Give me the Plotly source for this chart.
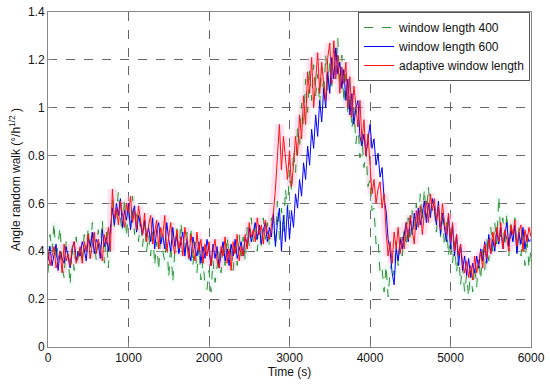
import plotly.graph_objects as go

# sampling grid (s)
time_s = list(range(0, 6001, 25))

# window length 400 (green dashed)
win400 = [
    0.31,0.47,0.40,0.52,0.36,0.44,0.50,0.34,0.29,0.44,0.37,0.26,0.42,0.32,0.46,0.35,
    0.43,0.35,0.47,0.40,0.50,0.37,0.52,0.44,0.36,0.49,0.41,0.53,0.35,0.48,0.33,0.50,
    0.62,0.50,0.56,0.65,0.53,0.48,0.62,0.46,0.58,0.50,0.63,0.47,0.56,0.44,0.54,0.42,
    0.52,0.40,0.47,0.38,0.50,0.34,0.44,0.32,0.48,0.40,0.36,0.45,0.29,0.43,0.27,0.40,
    0.50,0.40,0.52,0.44,0.38,0.48,0.35,0.50,0.34,0.44,0.31,0.42,0.28,0.36,0.26,0.24,
    0.32,0.23,0.36,0.27,0.33,0.40,0.31,0.44,0.34,0.46,0.38,0.43,0.32,0.45,0.34,0.47,
    0.38,0.46,0.36,0.50,0.42,0.54,0.44,0.52,0.40,0.50,0.42,0.54,0.45,0.52,0.42,0.54,
    0.52,0.42,0.61,0.45,0.58,0.48,0.66,0.57,0.74,0.65,0.82,0.73,0.92,0.83,1.02,0.92,
    1.12,0.98,1.16,1.03,1.18,1.05,1.14,1.01,1.17,1.05,1.22,1.07,1.20,1.09,1.27,1.15,
    1.29,1.10,1.22,1.02,1.14,0.97,1.06,0.91,1.00,0.85,0.94,0.79,0.88,0.75,0.82,0.67,
    0.70,0.57,0.58,0.43,0.45,0.31,0.33,0.23,0.34,0.21,0.32,0.36,0.30,0.44,0.34,0.46,
    0.38,0.50,0.42,0.54,0.44,0.57,0.48,0.60,0.50,0.64,0.53,0.66,0.54,0.67,0.56,0.62,
    0.57,0.48,0.58,0.46,0.54,0.42,0.52,0.38,0.48,0.35,0.44,0.31,0.40,0.26,0.34,0.23,
    0.30,0.21,0.32,0.23,0.34,0.25,0.37,0.28,0.42,0.32,0.46,0.36,0.50,0.40,0.52,0.43,
    0.63,0.46,0.54,0.42,0.56,0.38,0.52,0.44,0.54,0.40,0.50,0.38,0.48,0.34,0.46,0.33,
    0.41,
]

# window length 600 (blue)
win600 = [
    0.36,0.42,0.34,0.39,0.43,0.32,0.40,0.37,0.35,0.42,0.38,0.33,0.41,0.44,0.36,0.40,
    0.38,0.44,0.41,0.36,0.46,0.42,0.48,0.39,0.45,0.43,0.37,0.49,0.42,0.46,0.40,0.50,
    0.58,0.51,0.60,0.55,0.62,0.50,0.57,0.53,0.60,0.49,0.56,0.59,0.48,0.55,0.51,0.47,
    0.53,0.46,0.50,0.44,0.54,0.41,0.49,0.52,0.43,0.47,0.41,0.52,0.45,0.40,0.50,0.42,
    0.47,0.39,0.44,0.48,0.38,0.45,0.40,0.36,0.46,0.41,0.38,0.44,0.35,0.42,0.37,0.45,
    0.40,0.34,0.43,0.37,0.42,0.33,0.39,0.44,0.36,0.41,0.34,0.43,0.38,0.45,0.37,0.41,
    0.44,0.38,0.46,0.42,0.50,0.44,0.48,0.52,0.45,0.51,0.43,0.49,0.52,0.44,0.50,0.46,
    0.56,0.42,0.52,0.58,0.40,0.55,0.44,0.59,0.45,0.57,0.50,0.64,0.58,0.70,0.63,0.77,
    0.70,0.84,0.76,0.91,0.83,0.97,0.88,1.03,0.94,1.08,1.00,1.15,1.06,1.21,1.12,1.25,
    1.14,1.19,1.08,1.16,1.03,1.12,0.97,1.06,0.93,1.00,1.03,0.88,0.84,0.89,0.80,0.87,
    0.93,0.83,0.87,0.76,0.81,0.71,0.75,0.62,0.57,0.45,0.40,0.31,0.26,0.41,0.36,0.45,
    0.41,0.47,0.52,0.44,0.54,0.47,0.56,0.49,0.58,0.51,0.57,0.61,0.52,0.60,0.54,0.62,
    0.58,0.51,0.61,0.47,0.56,0.50,0.44,0.55,0.41,0.51,0.38,0.47,0.34,0.43,0.32,0.38,
    0.30,0.37,0.29,0.35,0.31,0.38,0.33,0.41,0.36,0.44,0.35,0.47,0.39,0.45,0.40,0.49,
    0.43,0.50,0.41,0.47,0.52,0.42,0.49,0.44,0.51,0.39,0.48,0.43,0.50,0.41,0.47,0.44,
    0.45,
]

# adaptive window length (red)
adaptive = [
    0.41,0.34,0.38,0.42,0.33,0.37,0.40,0.31,0.43,0.36,0.39,0.34,0.41,0.44,0.35,0.38,
    0.42,0.35,0.44,0.40,0.47,0.37,0.43,0.48,0.39,0.45,0.41,0.36,0.47,0.43,0.50,0.40,
    0.66,0.54,0.58,0.51,0.61,0.55,0.50,0.60,0.56,0.63,0.52,0.57,0.49,0.59,0.53,0.47,
    0.56,0.44,0.51,0.55,0.43,0.48,0.53,0.41,0.50,0.46,0.55,0.40,0.47,0.52,0.43,0.39,
    0.49,0.41,0.46,0.38,0.50,0.44,0.37,0.47,0.42,0.36,0.48,0.40,0.45,0.35,0.43,0.38,
    0.44,0.34,0.40,0.45,0.36,0.33,0.42,0.38,0.46,0.35,0.41,0.32,0.44,0.39,0.47,0.36,
    0.42,0.38,0.47,0.41,0.52,0.46,0.49,0.44,0.54,0.47,0.51,0.43,0.53,0.48,0.45,0.51,
    0.56,0.66,0.82,0.93,0.74,0.88,0.79,0.70,0.82,0.67,0.76,0.88,0.80,0.97,0.87,1.05,
    0.93,1.15,1.06,1.21,1.00,1.12,1.23,1.06,1.19,1.10,1.03,1.21,1.27,1.10,1.28,1.12,
    1.22,1.06,1.17,1.10,1.19,1.00,1.13,0.96,1.09,1.01,0.92,1.03,0.86,0.95,0.80,0.89,
    0.74,0.64,0.70,0.60,0.66,0.69,0.58,0.64,0.48,0.38,0.44,0.35,0.48,0.41,0.50,0.39,
    0.46,0.41,0.52,0.45,0.55,0.48,0.43,0.57,0.50,0.59,0.47,0.56,0.61,0.52,0.64,0.57,
    0.62,0.53,0.59,0.49,0.60,0.52,0.47,0.56,0.44,0.52,0.40,0.47,0.38,0.43,0.35,0.31,
    0.36,0.29,0.34,0.28,0.38,0.31,0.35,0.40,0.33,0.43,0.37,0.45,0.39,0.48,0.42,0.50,
    0.44,0.52,0.41,0.49,0.45,0.40,0.51,0.47,0.53,0.42,0.48,0.51,0.40,0.49,0.44,0.50,
    0.46,
]

series_names = ["window length 400", "window length 600", "adaptive window length"]
x_ticks = [0, 1000, 2000, 3000, 4000, 5000, 6000]
y_ticks = [0, 0.2, 0.4, 0.6, 0.8, 1.0, 1.2, 1.4]
y_tick_text = ["0", "0.2", "0.4", "0.6", "0.8", "1", "1.2", "1.4"]

fig = go.Figure()

# soft halos (as seen around the dense curves)
fig.add_trace(go.Scatter(x=time_s, y=win400, mode="lines", showlegend=False, hoverinfo="skip",
                         line=dict(color="rgba(190,245,230,0.25)", width=5)))
fig.add_trace(go.Scatter(x=time_s, y=adaptive, mode="lines", showlegend=False, hoverinfo="skip",
                         line=dict(color="rgba(255,185,220,0.40)", width=9)))

fig.add_trace(go.Scatter(x=time_s, y=win400, mode="lines", name=series_names[0],
                         line=dict(color="#2f8f2f", width=1, dash="dash")))
fig.add_trace(go.Scatter(x=time_s, y=win600, mode="lines", name=series_names[1],
                         line=dict(color="#0000ff", width=1)))
fig.add_trace(go.Scatter(x=time_s, y=adaptive, mode="lines", name=series_names[2],
                         line=dict(color="#ff1010", width=1)))

axis_common = dict(
    showline=True, linecolor="#888888", linewidth=1, mirror=True,
    ticks="inside", ticklen=4, tickcolor="#888888",
    showgrid=True, gridcolor="#666666", gridwidth=1, griddash="dash",
    zeroline=False, automargin=False,
)

fig.update_layout(
    width=550, height=385,
    margin=dict(l=48, r=19, t=12, b=38),
    paper_bgcolor="white", plot_bgcolor="white",
    font=dict(family="Liberation Sans, Arial, sans-serif", size=12, color="#111111"),
    xaxis=dict(range=[0, 6000], tickvals=x_ticks,
               title=dict(text="Time (s)", standoff=2, font=dict(size=12)),
               **axis_common),
    yaxis=dict(range=[0, 1.4], tickvals=y_ticks, ticktext=y_tick_text,
               title=dict(text="Angle random walk (°/h<sup>1/2</sup> )", standoff=4, font=dict(size=12)),
               **axis_common),
    legend=dict(x=0.642, y=1.0, xanchor="left", yanchor="top",
                bgcolor="white", bordercolor="#555555", borderwidth=1,
                font=dict(size=12), tracegroupgap=0, itemwidth=30),
    showlegend=True,
)

# remove the browser's default 8px page margin so the figure sits at the page origin
fig.write_html("out.html", config={"displayModeBar": False},
               post_script="document.body.style.margin='0';")
